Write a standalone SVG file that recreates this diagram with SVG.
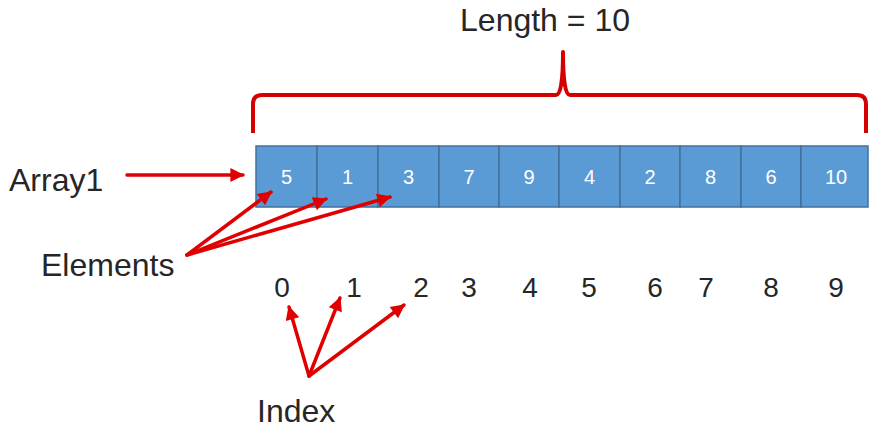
<svg xmlns="http://www.w3.org/2000/svg" width="869" height="434" viewBox="0 0 869 434">
  <style>
    .label { font-family: "Liberation Sans", Arial, sans-serif; font-size: 32px; fill: #262626; }
    .idx { font-family: "Liberation Sans", Arial, sans-serif; font-size: 28px; fill: #262626; text-anchor: middle; }
    .cell rect { fill: #5b9bd5; stroke: #41719c; stroke-width: 1.5; }
    .cell text { font-family: "Liberation Sans", Arial, sans-serif; font-size: 20px; fill: #ffffff; text-anchor: middle; }
    .arrow { stroke: #e00000; stroke-width: 3.5; fill: none; stroke-linecap: round; }
    .brace { stroke: #d50000; stroke-width: 4; fill: none; stroke-linejoin: round; }
  </style>
  <defs>
    <marker id="head" viewBox="0 0 10 10" refX="9" refY="5" markerWidth="4.5" markerHeight="4" orient="auto" markerUnits="strokeWidth">
      <path d="M0,0 L10,5 L0,10 Z" fill="#e00000"/>
    </marker>
  </defs>

  <rect width="869" height="434" fill="#ffffff"/>

  <!-- length brace and caption -->
  <g id="length">
    <text class="label" x="545" y="31" text-anchor="middle">Length = 10</text>
    <path class="brace" d="M253,133 L253,104 Q253,95 262,95 L556,95 Q563,95 563,52 Q563,95 570,95 L857,95 Q866,95 866,104 L866,133"/>
  </g>

  <!-- array cells -->
  <g id="array1" class="cell">
    <rect x="256" y="146" width="61" height="61"/><text x="286.5" y="184">5</text>
    <rect x="317" y="146" width="61" height="61"/><text x="347.5" y="184">1</text>
    <rect x="378" y="146" width="61" height="61"/><text x="408.5" y="184">3</text>
    <rect x="439" y="146" width="60" height="61"/><text x="469" y="184">7</text>
    <rect x="499" y="146" width="60" height="61"/><text x="529" y="184">9</text>
    <rect x="559" y="146" width="61" height="61"/><text x="589.5" y="184">4</text>
    <rect x="620" y="146" width="60" height="61"/><text x="650" y="184">2</text>
    <rect x="680" y="146" width="61" height="61"/><text x="710.5" y="184">8</text>
    <rect x="741" y="146" width="60" height="61"/><text x="771" y="184">6</text>
    <rect x="801" y="146" width="67" height="61"/><text x="836" y="184">10</text>
  </g>

  <!-- labels -->
  <g id="label-array1"><text class="label" x="9" y="191">Array1</text></g>
  <g id="label-elements"><text class="label" x="41" y="276">Elements</text></g>
  <g id="label-index"><text class="label" x="257" y="422">Index</text></g>

  <!-- index numbers -->
  <g id="indices">
    <text class="idx" x="282" y="297">0</text>
    <text class="idx" x="354" y="297">1</text>
    <text class="idx" x="421" y="297">2</text>
    <text class="idx" x="469" y="297">3</text>
    <text class="idx" x="530" y="297">4</text>
    <text class="idx" x="589" y="297">5</text>
    <text class="idx" x="655" y="297">6</text>
    <text class="idx" x="706" y="297">7</text>
    <text class="idx" x="771" y="297">8</text>
    <text class="idx" x="836" y="297">9</text>
  </g>

  <!-- connectors -->
  <g id="connectors">
    <line class="arrow" x1="127" y1="175" x2="243" y2="175" marker-end="url(#head)"/>
    <line class="arrow" x1="187" y1="255" x2="271" y2="192" marker-end="url(#head)"/>
    <line class="arrow" x1="187" y1="255" x2="326" y2="199" marker-end="url(#head)"/>
    <line class="arrow" x1="187" y1="255" x2="390" y2="197" marker-end="url(#head)"/>
    <line class="arrow" x1="309" y1="376" x2="289" y2="307" marker-end="url(#head)"/>
    <line class="arrow" x1="309" y1="376" x2="340" y2="298" marker-end="url(#head)"/>
    <line class="arrow" x1="309" y1="376" x2="404" y2="305" marker-end="url(#head)"/>
  </g>
</svg>
